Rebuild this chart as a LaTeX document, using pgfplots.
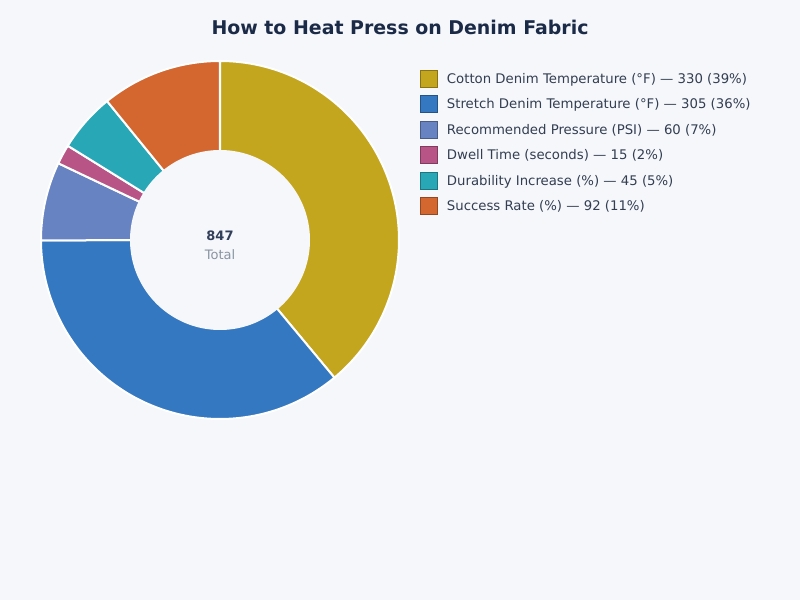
\documentclass[border=0pt]{standalone}
\usepackage{pgfplots}
\pgfplotsset{compat=1.18}
\usepackage{fontspec}
\setmainfont{DejaVu Sans}

\definecolor{bg}{HTML}{F5F7FA}
\definecolor{titlec}{HTML}{1B2A47}
\definecolor{legtext}{HTML}{333E52}
\definecolor{totalc}{HTML}{8A94A3}
\definecolor{cotton}{HTML}{C4A61E}
\definecolor{stretch}{HTML}{3478C1}
\definecolor{pressure}{HTML}{6783C1}
\definecolor{dwell}{HTML}{B85486}
\definecolor{durab}{HTML}{28A7B7}
\definecolor{success}{HTML}{D4662F}

\begin{document}
\begin{tikzpicture}
% slice values and running angles (start at top, clockwise)
\def\total{847}
\pgfmathsetmacro{\aA}{90}
\pgfmathsetmacro{\aB}{\aA-330/\total*360}
\pgfmathsetmacro{\aC}{\aB-305/\total*360}
\pgfmathsetmacro{\aD}{\aC-60/\total*360}
\pgfmathsetmacro{\aE}{\aD-15/\total*360}
\pgfmathsetmacro{\aF}{\aE-45/\total*360}
\pgfmathsetmacro{\aG}{\aF-92/\total*360}
\begin{axis}[
    scale only axis,
    width=600pt, height=450pt,
    xmin=0, xmax=800, ymin=0, ymax=600,
    hide axis, clip=false,
    legend image code/.code={\fill[#1] (0pt,-6pt) rectangle (12.75pt,6.75pt);},
    legend cell align=left,
    legend style={
        at={(axis cs:420,530.5)}, anchor=north west,
        draw=none, fill=none, inner sep=0pt,
        font=\fontsize{9.95}{12}\selectfont, text=legtext,
        row sep=5.9pt,
        nodes={inner sep=0pt},
        /tikz/column 1/.style={column sep=6.75pt},
    },
    slice/.style={fill=#1, draw=white, line width=1.5pt, samples=90,
        legend image post style={draw=#1!70!black, line width=0.5pt}},
]
\fill[bg] (axis cs:0,0) rectangle (axis cs:800,600);

\addplot[slice=cotton, domain=\aB:\aA] ({220+179*cos(x)},{360+179*sin(x)}) -- (axis cs:220,360) -- cycle;
\addlegendentry{Cotton Denim Temperature (°F) — 330 (39\%)}
\addplot[slice=stretch, domain=\aC:\aB] ({220+179*cos(x)},{360+179*sin(x)}) -- (axis cs:220,360) -- cycle;
\addlegendentry{Stretch Denim Temperature (°F) — 305 (36\%)}
\addplot[slice=pressure, domain=\aD:\aC] ({220+179*cos(x)},{360+179*sin(x)}) -- (axis cs:220,360) -- cycle;
\addlegendentry{Recommended Pressure (PSI) — 60 (7\%)}
\addplot[slice=dwell, domain=\aE:\aD] ({220+179*cos(x)},{360+179*sin(x)}) -- (axis cs:220,360) -- cycle;
\addlegendentry{Dwell Time (seconds) — 15 (2\%)}
\addplot[slice=durab, domain=\aF:\aE] ({220+179*cos(x)},{360+179*sin(x)}) -- (axis cs:220,360) -- cycle;
\addlegendentry{Durability Increase (\%) — 45 (5\%)}
\addplot[slice=success, domain=\aG:\aF] ({220+179*cos(x)},{360+179*sin(x)}) -- (axis cs:220,360) -- cycle;
\addlegendentry{Success Rate (\%) — 92 (11\%)}

% donut hole
\addplot[fill=bg, draw=none, domain=0:360, samples=181, forget plot] ({220+90*cos(x)},{360+90*sin(x)}) -- cycle;

\node[font=\bfseries\fontsize{14.2}{17}\selectfont, text=titlec] at (axis cs:400,573) {How to Heat Press on Denim Fabric};
\node[font=\bfseries\fontsize{9.75}{11.7}\selectfont, text=titlec!90!white] at (axis cs:220,364) {847};
\node[font=\fontsize{9.75}{11.7}\selectfont, text=totalc] at (axis cs:220,345) {Total};
\end{axis}
\end{tikzpicture}
\end{document}
